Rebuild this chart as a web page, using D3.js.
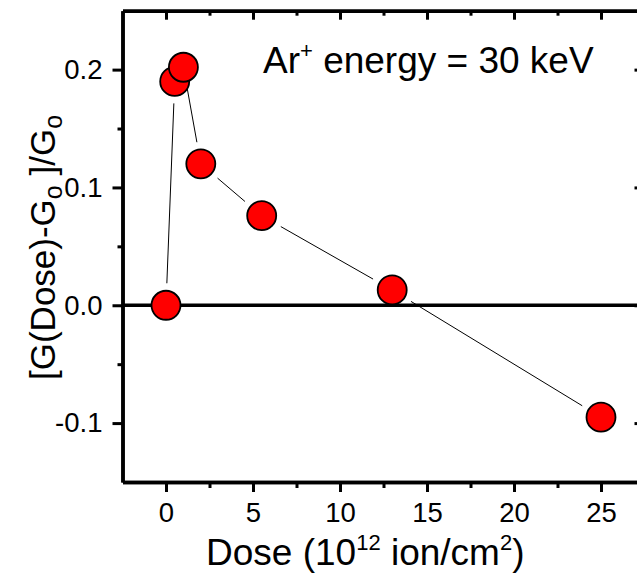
<!DOCTYPE html>
<html>
<head>
<meta charset="utf-8">
<script src="https://cdn.jsdelivr.net/npm/d3@7"></script>
<style>
  body { margin: 0; background: #fff; }
  svg { display: block; font-family: "Liberation Sans", Arial, sans-serif; }
</style>
</head>
<body>
<script>
// Data
const doses = [0, 0.5, 1, 2, 5.5, 13, 25];
const changes = [0, 0.19, 0.202, 0.12, 0.076, 0.013, -0.095];

const xMajor = [0, 5, 10, 15, 20, 25];
const xMinor = [2.5, 7.5, 12.5, 17.5, 22.5];
const yMajor = [-0.1, 0, 0.1, 0.2];
const yMinor = [-0.05, 0.05, 0.15];

let width = 637, height = 575;

// plot frame (right edge runs slightly past the window, as in the original)
let x = d3.scaleLinear().domain([-2.5, 27.5]).range([122.5, 644.5]);
let y = d3.scaleLinear().domain([-0.15, 0.25]).range([482, 10.7]);

// plain hyphen for negatives, like the original
let fmtY = d => d3.format(".1f")(d).replace("\u2212", "-");

let svg = d3.select("body")
    .append("svg")
    .attr("width", width)
    .attr("height", height);

function styleAxis(g) {
    g.select(".domain").attr("stroke", "#000").attr("stroke-width", 3.5);
    g.selectAll(".tick line").attr("stroke", "#000").attr("stroke-width", 3);
    g.selectAll(".tick text")
        .attr("fill", "#000")
        .style("font-size", "27.5px")
        .style("font-family", "'Liberation Sans', Arial, sans-serif");
}

// minor ticks first, then major ones with labels
svg.append("g")
    .attr("transform", `translate(0,${y.range()[0]})`)
    .call(d3.axisBottom(x).tickValues(xMinor).tickSize(6).tickSizeOuter(0).tickFormat(""))
    .call(styleAxis);
svg.append("g")
    .attr("transform", `translate(0,${y.range()[0]})`)
    .call(d3.axisBottom(x).tickValues(xMajor).tickSize(10).tickSizeOuter(0).tickPadding(10).tickFormat(d3.format("d")))
    .call(styleAxis);

svg.append("g")
    .attr("transform", `translate(0,${y.range()[1]})`)
    .call(d3.axisTop(x).tickValues(xMinor).tickSize(-5).tickSizeOuter(0).tickFormat(""))
    .call(styleAxis);
svg.append("g")
    .attr("transform", `translate(0,${y.range()[1]})`)
    .call(d3.axisTop(x).tickValues(xMajor).tickSize(-9).tickSizeOuter(0).tickFormat(""))
    .call(styleAxis);

svg.append("g")
    .attr("transform", `translate(${x.range()[0]},0)`)
    .call(d3.axisLeft(y).tickValues(yMinor).tickSize(5).tickSizeOuter(0).tickFormat(""))
    .call(styleAxis);
svg.append("g")
    .attr("transform", `translate(${x.range()[0]},0)`)
    .call(d3.axisLeft(y).tickValues(yMajor).tickSize(10).tickSizeOuter(0).tickPadding(10).tickFormat(fmtY))
    .call(styleAxis);

svg.append("g")
    .attr("transform", `translate(${x.range()[1]},0)`)
    .call(d3.axisRight(y).tickValues(yMinor).tickSize(-5).tickSizeOuter(0).tickFormat(""))
    .call(styleAxis);
svg.append("g")
    .attr("transform", `translate(${x.range()[1]},0)`)
    .call(d3.axisRight(y).tickValues(yMajor).tickSize(-10).tickSizeOuter(0).tickFormat(""))
    .call(styleAxis);

// zero line
svg.append("line")
    .attr("x1", x.range()[0])
    .attr("x2", x.range()[1])
    .attr("y1", y(0))
    .attr("y2", y(0))
    .attr("stroke", "#000")
    .attr("stroke-width", 3.5);

// connecting line with gaps around the symbols
let gap = 22;
let pts = doses.map((d, i) => [x(d), y(changes[i])]);
let segs = d3.pairs(pts).map(([a, b]) => {
    let dx = b[0] - a[0], dy = b[1] - a[1];
    let len = Math.hypot(dx, dy);
    let ux = dx / len, uy = dy / len;
    return [[a[0] + ux * gap, a[1] + uy * gap], [b[0] - ux * gap, b[1] - uy * gap]];
});

svg.append("g")
    .selectAll("path")
    .data(segs)
    .enter()
    .append("path")
    .attr("d", d => d3.line()(d))
    .attr("stroke", "#000")
    .attr("stroke-width", 1)
    .attr("fill", "none");

svg.append("g")
    .selectAll("circle")
    .data(doses)
    .enter()
    .append("circle")
    .attr("cx", d => x(d))
    .attr("cy", (d, i) => y(changes[i]))
    .attr("r", 14.5)
    .attr("fill", "#ff0000")
    .attr("stroke", "#000")
    .attr("stroke-width", 1.8);

// annotation
let note = svg.append("text")
    .attr("x", 263)
    .attr("y", 73)
    .style("font-size", "37px");
note.append("tspan").text("Ar");
note.append("tspan").attr("dy", -15).style("font-size", "22px").text("+");
note.append("tspan").attr("dy", 15).text(" energy = 30 keV");

// x title
let xt = svg.append("text")
    .attr("x", 206)
    .attr("y", 565)
    .style("font-size", "37px");
xt.append("tspan").text("Dose (10");
xt.append("tspan").attr("dy", -15).style("font-size", "22px").text("12");
xt.append("tspan").attr("dy", 15).text(" ion/cm");
xt.append("tspan").attr("dy", -15).style("font-size", "22px").text("2");
xt.append("tspan").attr("dy", 15).text(")");

// y title
let yt = svg.append("text")
    .attr("transform", "translate(55,380) rotate(-90)")
    .style("font-size", "35px");
yt.append("tspan").text("[G(Dose)-G");
yt.append("tspan").attr("dy", 7).style("font-size", "25px").text("o");
yt.append("tspan").attr("dy", -7).text(" ]/G");
yt.append("tspan").attr("dy", 7).style("font-size", "25px").text("o");
</script>
</body>
</html>
